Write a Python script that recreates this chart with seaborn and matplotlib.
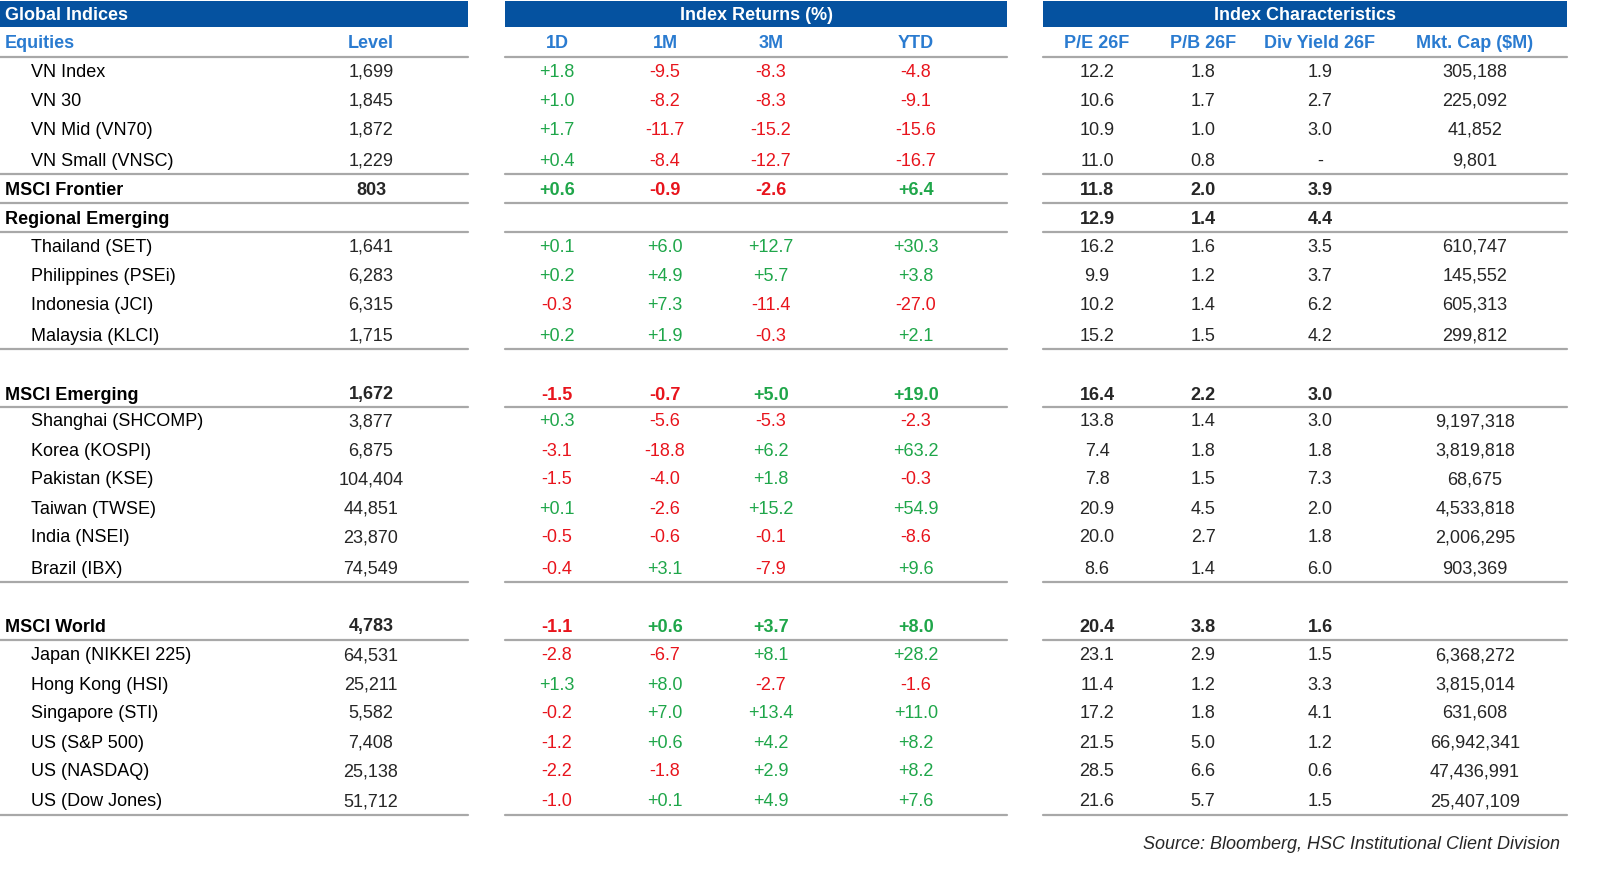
import matplotlib.pyplot as plt
import seaborn as sns

sns.set_theme(style="white")
plt.rcParams['font.family'] = ['Liberation Sans', 'DejaVu Sans']

names = ["VN Index", "VN 30", "VN Mid (VN70)", "VN Small (VNSC)", "MSCI Frontier",
         "Regional Emerging", "Thailand (SET)", "Philippines (PSEi)", "Indonesia (JCI)",
         "Malaysia (KLCI)", "", "MSCI Emerging", "Shanghai (SHCOMP)", "Korea (KOSPI)",
         "Pakistan (KSE)", "Taiwan (TWSE)", "India (NSEI)", "Brazil (IBX)", "",
         "MSCI World", "Japan (NIKKEI 225)", "Hong Kong (HSI)", "Singapore (STI)",
         "US (S&P 500)", "US (NASDAQ)", "US (Dow Jones)"]
bold_rows = {"MSCI Frontier", "Regional Emerging", "MSCI Emerging", "MSCI World"}
level = ["1,699", "1,845", "1,872", "1,229", "803", "", "1,641", "6,283", "6,315", "1,715", "",
         "1,672", "3,877", "6,875", "104,404", "44,851", "23,870", "74,549", "",
         "4,783", "64,531", "25,211", "5,582", "7,408", "25,138", "51,712"]
r1d = [1.8, 1.0, 1.7, 0.4, 0.6, None, 0.1, 0.2, -0.3, 0.2, None,
       -1.5, 0.3, -3.1, -1.5, 0.1, -0.5, -0.4, None, -1.1, -2.8, 1.3, -0.2, -1.2, -2.2, -1.0]
r1m = [-9.5, -8.2, -11.7, -8.4, -0.9, None, 6.0, 4.9, 7.3, 1.9, None,
       -0.7, -5.6, -18.8, -4.0, -2.6, -0.6, 3.1, None, 0.6, -6.7, 8.0, 7.0, 0.6, -1.8, 0.1]
r3m = [-8.3, -8.3, -15.2, -12.7, -2.6, None, 12.7, 5.7, -11.4, -0.3, None,
       5.0, -5.3, 6.2, 1.8, 15.2, -0.1, -7.9, None, 3.7, 8.1, -2.7, 13.4, 4.2, 2.9, 4.9]
rytd = [-4.8, -9.1, -15.6, -16.7, 6.4, None, 30.3, 3.8, -27.0, 2.1, None,
        19.0, -2.3, 63.2, -0.3, 54.9, -8.6, 9.6, None, 8.0, 28.2, -1.6, 11.0, 8.2, 8.2, 7.6]
pe = ["12.2", "10.6", "10.9", "11.0", "11.8", "12.9", "16.2", "9.9", "10.2", "15.2", "",
      "16.4", "13.8", "7.4", "7.8", "20.9", "20.0", "8.6", "",
      "20.4", "23.1", "11.4", "17.2", "21.5", "28.5", "21.6"]
pb = ["1.8", "1.7", "1.0", "0.8", "2.0", "1.4", "1.6", "1.2", "1.4", "1.5", "",
      "2.2", "1.4", "1.8", "1.5", "4.5", "2.7", "1.4", "",
      "3.8", "2.9", "1.2", "1.8", "5.0", "6.6", "5.7"]
dy = ["1.9", "2.7", "3.0", "-", "3.9", "4.4", "3.5", "3.7", "6.2", "4.2", "",
      "3.0", "3.0", "1.8", "7.3", "2.0", "1.8", "6.0", "",
      "1.6", "1.5", "3.3", "4.1", "1.2", "0.6", "1.5"]
mcap = ["305,188", "225,092", "41,852", "9,801", "", "", "610,747", "145,552", "605,313",
        "299,812", "", "", "9,197,318", "3,819,818", "68,675", "4,533,818", "2,006,295",
        "903,369", "", "", "6,368,272", "3,815,014", "631,608", "66,942,341",
        "47,436,991", "25,407,109"]

row_y = [72, 101, 130, 161, 190, 219, 247, 276, 305, 336, 365, 395, 422, 451, 480, 509,
         538, 569, 598, 627, 656, 685, 713, 743, 772, 802]
line_y = [58, 175, 204, 233, 350, 408, 583, 641, 816]
sections = [(0, 468), (505, 1007), (1043, 1567)]

BLUE = "#0552a0"
SUB = "#2a7bd0"
GREEN = "#1fa64a"
RED = "#e8141c"
FS = 13

fig = plt.figure(figsize=(16, 8.95), dpi=100)
ax = fig.add_axes([0, 0, 1, 1])
ax.set_xlim(0, 1600)
ax.set_ylim(895, 0)
ax.axis("off")

titles = ["Global Indices", "Index Returns (%)", "Index Characteristics"]
for (x0, x1), t in zip(sections, titles):
    ax.add_patch(plt.Rectangle((x0, 2), x1 - x0, 26, color=BLUE, lw=0))
    if t == "Global Indices":
        ax.text(x0 + 5, 15, t, color="white", fontsize=FS, fontweight="bold", va="center")
    else:
        ax.text((x0 + x1) / 2, 15, t, color="white", fontsize=FS, fontweight="bold",
                va="center", ha="center")
    for y in line_y:
        ax.plot([x0, x1], [y, y], color="#a8a8a8", lw=1.6)

cols_x = [371, 557, 665, 771, 916, 1097, 1203, 1320, 1475]
heads = ["Level", "1D", "1M", "3M", "YTD", "P/E 26F", "P/B 26F", "Div Yield 26F", "Mkt. Cap ($M)"]
ax.text(5, 43, "Equities", color=SUB, fontsize=FS, fontweight="bold", va="center")
for x, h in zip(cols_x, heads):
    ax.text(x, 43, h, color=SUB, fontsize=FS, fontweight="bold", va="center", ha="center")

for i, y in enumerate(row_y):
    name = names[i]
    if not name:
        continue
    b = name in bold_rows
    w = "bold" if b else "normal"
    ax.text(5 if b else 31, y, name, fontsize=FS, fontweight=w, va="center", color="black")
    ax.text(cols_x[0], y, level[i], fontsize=FS, fontweight=w, va="center", ha="center")
    for x, ser in zip(cols_x[1:5], [r1d, r1m, r3m, rytd]):
        v = ser[i]
        if v is None:
            continue
        ax.text(x, y, f"{v:+.1f}", fontsize=FS, fontweight=w, va="center", ha="center",
                color=GREEN if v > 0 else RED)
    for x, ser in zip(cols_x[5:], [pe, pb, dy, mcap]):
        ax.text(x, y, ser[i], fontsize=FS, fontweight=w, va="center", ha="center")

ax.text(1560, 845, "Source: Bloomberg, HSC Institutional Client Division", fontsize=FS,
        style="italic", ha="right", va="center")

fig.savefig("out.png", dpi=100)
